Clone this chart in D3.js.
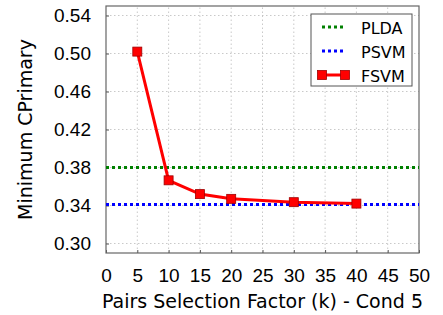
<!DOCTYPE html>
<html>
<head>
<meta charset="utf-8">
<style>
  body { margin: 0; background: #fff; }
  svg { font-family: "DejaVu Sans", sans-serif; display: block; }
  .grid line { stroke: #bbb; stroke-dasharray: 1.5,2.5; stroke-width: 0.8px; }
  .axis .domain { display: none; }
  .axis .tick line { stroke: #555; }
  .axis .tick text { font-size: 19px; fill: #000; }
</style>
</head>
<body>
<svg width="443" height="315"></svg>
<script src="https://d3js.org/d3.v7.min.js"></script>
<script>
// data
let kValues = [5, 10, 15, 20, 30, 40];
let fsvmValues = [0.502, 0.3665, 0.352, 0.347, 0.3435, 0.342];
let pldaValue = 0.38;
let psvmValue = 0.341;
let xTicks = [0, 5, 10, 15, 20, 25, 30, 35, 40, 45, 50];
let yTicks = [0.30, 0.34, 0.38, 0.42, 0.46, 0.50, 0.54];
let legendNames = ["PLDA", "PSVM", "FSVM"];

let svg = d3.select("svg");
let margin = { top: 6, right: 24, bottom: 62, left: 106 };
let width = 443, height = 315;

let x = d3.scaleLinear().domain([0, 50]).range([margin.left, width - margin.right]);
let y = d3.scaleLinear().domain([0.29, 0.55]).range([height - margin.bottom, margin.top]);

// grid
let grid = svg.append("g").attr("class", "grid");
grid.selectAll(".gx").data(xTicks.slice(1, -1)).join("line")
  .attr("x1", d => x(d)).attr("x2", d => x(d))
  .attr("y1", y.range()[0]).attr("y2", y.range()[1]);
grid.selectAll(".gy").data(yTicks).join("line")
  .attr("x1", x.range()[0]).attr("x2", x.range()[1])
  .attr("y1", d => y(d)).attr("y2", d => y(d));

// axes
let xAxis = svg.append("g").attr("class", "axis")
  .attr("transform", `translate(0,${y.range()[0]})`)
  .call(d3.axisBottom(x).tickValues(xTicks).tickFormat(d3.format("d")).tickSizeInner(-3).tickSizeOuter(0).tickPadding(16));
let yAxis = svg.append("g").attr("class", "axis")
  .attr("transform", `translate(${x.range()[0]},0)`)
  .call(d3.axisLeft(y).tickValues(yTicks).tickFormat(d3.format(".2f")).tickSizeInner(-3).tickSizeOuter(0).tickPadding(15));

// frame
svg.append("rect")
  .attr("x", x.range()[0]).attr("y", y.range()[1])
  .attr("width", x.range()[1] - x.range()[0])
  .attr("height", y.range()[0] - y.range()[1])
  .style("fill", "none").style("stroke", "#666").style("stroke-width", 1.2);

// horizontal baselines
svg.append("line")
  .attr("x1", x.range()[0]).attr("x2", x.range()[1])
  .attr("y1", y(pldaValue)).attr("y2", y(pldaValue))
  .style("stroke", "#008000").style("stroke-width", 3).style("stroke-dasharray", "3,3");
svg.append("line")
  .attr("x1", x.range()[0]).attr("x2", x.range()[1])
  .attr("y1", y(psvmValue)).attr("y2", y(psvmValue))
  .style("stroke", "#0000ff").style("stroke-width", 3).style("stroke-dasharray", "3,3");

// FSVM line
let fsvm = kValues.map((k, i) => ({ k: k, v: fsvmValues[i] }));
let line = d3.line().x(d => x(d.k)).y(d => y(d.v));
svg.append("path").datum(fsvm)
  .attr("d", line)
  .style("fill", "none").style("stroke", "#ff0000").style("stroke-width", 3);
svg.selectAll(".pt").data(fsvm).join("rect")
  .attr("x", d => x(d.k) - 4.5).attr("y", d => y(d.v) - 4.5)
  .attr("width", 9).attr("height", 9)
  .style("fill", "#ff0000").style("stroke", "#a00000").style("stroke-width", 0.8);

// axis labels
svg.append("text")
  .attr("x", (x.range()[0] + x.range()[1]) / 2).attr("y", 308)
  .attr("text-anchor", "middle").style("font-size", "19px").style("fill", "#000")
  .text("Pairs Selection Factor (k) - Cond 5");
svg.append("text")
  .attr("transform", `translate(32,${(y.range()[0] + y.range()[1]) / 2}) rotate(-90)`)
  .attr("text-anchor", "middle").style("font-size", "19px").style("fill", "#000")
  .text("Minimum CPrimary");

// legend
let lg = svg.append("g");
lg.append("rect").attr("x", 311).attr("y", 14).attr("width", 101).attr("height", 72)
  .style("fill", "#fff").style("stroke", "#555").style("stroke-width", 1);
let legendColors = ["#008000", "#0000ff", "#ff0000"];
legendNames.forEach(function (name, i) {
  let ly = 27 + i * 24;
  if (i < 2) {
    lg.append("line").attr("x1", 322).attr("x2", 346).attr("y1", ly).attr("y2", ly)
      .style("stroke", legendColors[i]).style("stroke-width", 3).style("stroke-dasharray", "3,3");
  } else {
    lg.append("line").attr("x1", 322).attr("x2", 345).attr("y1", ly).attr("y2", ly)
      .style("stroke", legendColors[i]).style("stroke-width", 3);
    [322, 345].forEach(function (cx) {
      lg.append("rect").attr("x", cx - 4.5).attr("y", ly - 4.5).attr("width", 9).attr("height", 9)
        .style("fill", "#ff0000").style("stroke", "#a00000").style("stroke-width", 0.8);
    });
  }
  lg.append("text").attr("x", 361).attr("y", ly + 6.5)
    .style("font-size", "16px").style("fill", "#000").text(name);
});
</script>
</body>
</html>
